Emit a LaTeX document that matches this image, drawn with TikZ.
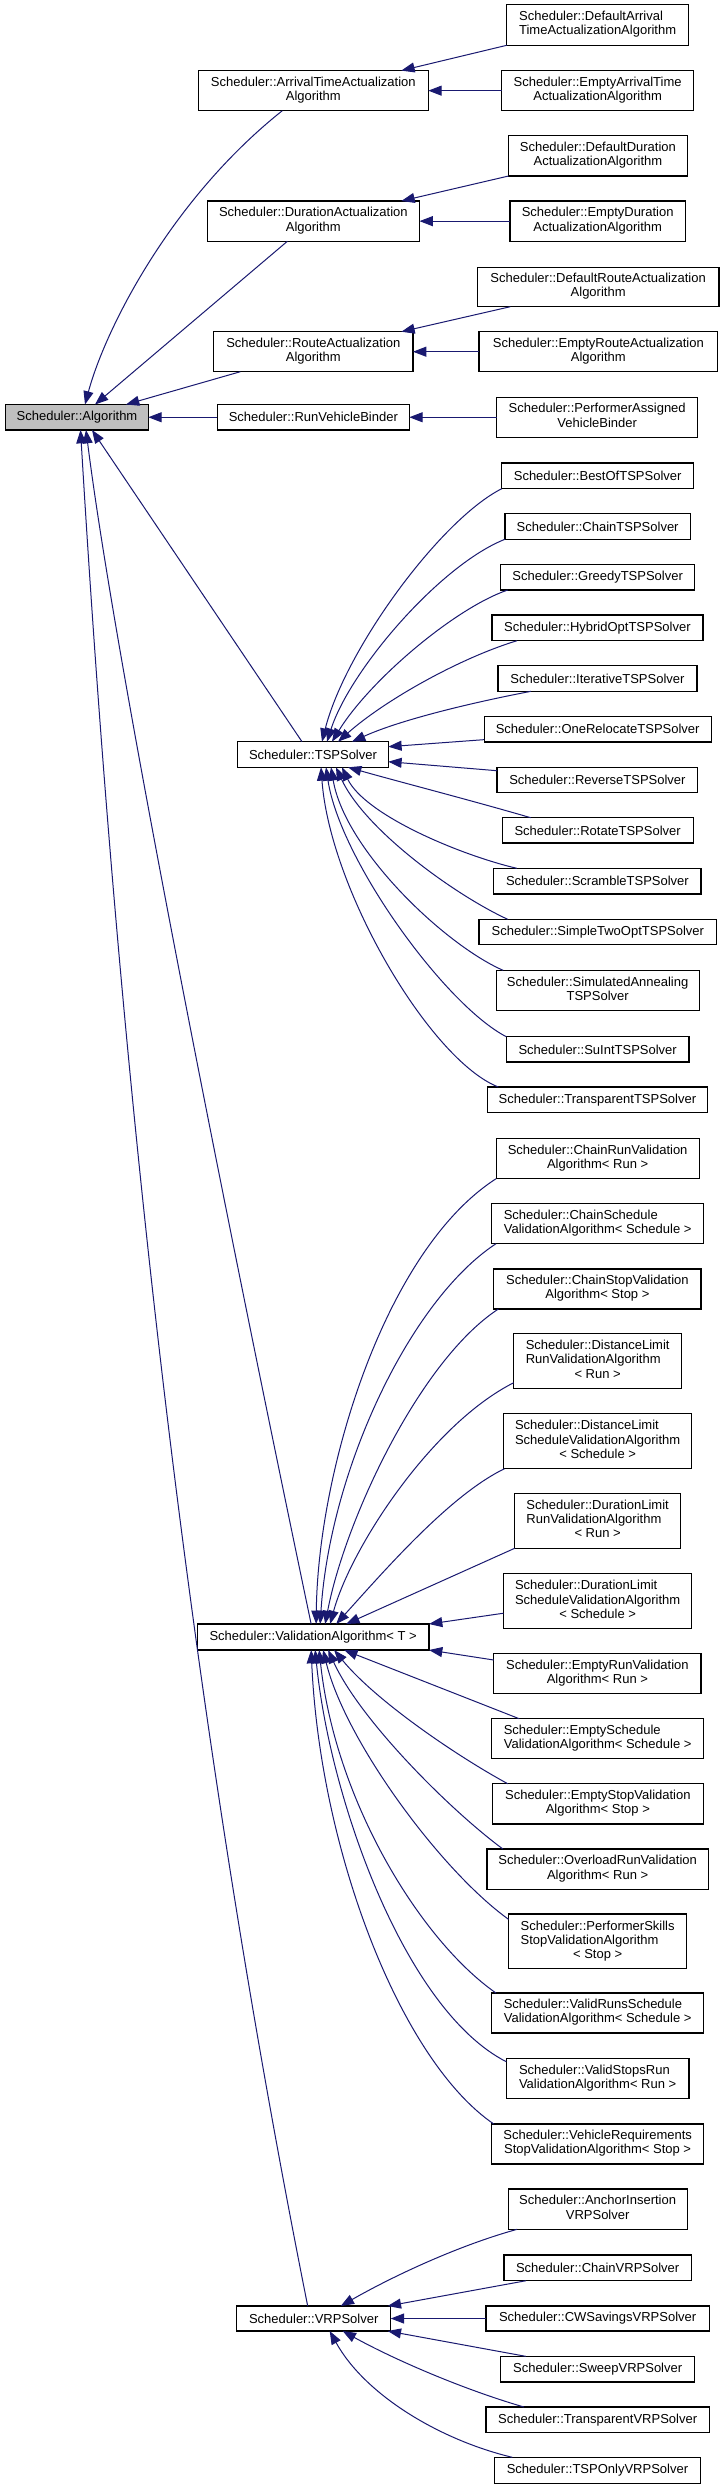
\documentclass[tikz,border=0pt]{standalone}
\usepackage{fontspec}
\setmainfont{Liberation Sans}
\usetikzlibrary{arrows.meta,calc}
\definecolor{mblue}{RGB}{25,25,112}
\definecolor{algogray}{RGB}{191,191,191}
\newcommand\ltwo[2]{\begin{tabular}{@{}l@{}}#1\\\multicolumn{1}{@{}c@{}}{#2}\end{tabular}}
\newcommand\lthree[3]{\begin{tabular}{@{}l@{}}#1\\#2\\\multicolumn{1}{@{}c@{}}{#3}\end{tabular}}
\newcommand\bx[7][]{%
  \pgfmathsetmacro\bxw{(#5-#3)*0.75}%
  \pgfmathsetmacro\bxh{(#6-#4)*0.75}%
  \pgfmathsetmacro\bxcx{(#3+#5)/2}%
  \pgfmathsetmacro\bxcy{(#4+#6)/2}%
  \node[box,minimum width=\bxw pt,minimum height=\bxh pt,#1] (#2) at (\bxcx,\bxcy) {#7};}
\begin{document}
\begin{tikzpicture}[x=0.75pt,y=-0.75pt,
  box/.style={draw=black, line width=0.9pt, inner sep=0pt, outer sep=0pt, fill=white, font=\fontsize{9.75}{10.65}\selectfont},
  edge/.style={draw=mblue, line width=0.75pt, -{Triangle[length=10pt,width=7.5pt]}},
]
\useasboundingbox (0,0) rectangle (723,2489);
\fill[white] (0,0) rectangle (723,2489);

% ---- column 1
\bx[fill=algogray]{algo}{5.7}{404.5}{148.3}{430}{Scheduler::Algorithm}

% ---- column 2
\bx{arrtime}{198.3}{70.6}{428.3}{110.7}{\ltwo{Scheduler::ArrivalTimeActualization}{Algorithm}}
\bx{duract}{207.2}{201}{419.5}{241.3}{\ltwo{Scheduler::DurationActualization}{Algorithm}}
\bx{routeact}{213.7}{331.7}{413}{371.7}{\ltwo{Scheduler::RouteActualization}{Algorithm}}
\bx{runvb}{217.4}{404.5}{409.3}{430}{Scheduler::RunVehicleBinder}
\bx{tsp}{237.7}{741.7}{388.3}{767.3}{Scheduler::TSPSolver}
\bx{valid}{197.3}{1624}{429}{1650}{Scheduler::ValidationAlgorithm< T >}
\bx{vrp}{236.7}{2306}{390.7}{2331}{Scheduler::VRPSolver}

% ---- column 3
\bx{defarr}{506.7}{4.7}{688.6}{45.3}{\ltwo{Scheduler::DefaultArrival}{TimeActualizationAlgorithm}}
\bx{emptyarr}{501.7}{70.6}{693.6}{110.7}{\ltwo{Scheduler::EmptyArrivalTime}{ActualizationAlgorithm}}
\bx{defdur}{508.6}{135.7}{687.2}{176}{\ltwo{Scheduler::DefaultDuration}{ActualizationAlgorithm}}
\bx{emptydur}{510}{201}{685.3}{241.3}{\ltwo{Scheduler::EmptyDuration}{ActualizationAlgorithm}}
\bx{defroute}{477.3}{267.3}{719}{306.7}{\ltwo{Scheduler::DefaultRouteActualization}{Algorithm}}
\bx{emptyroute}{479}{331.7}{717.7}{371.7}{\ltwo{Scheduler::EmptyRouteActualization}{Algorithm}}
\bx{perfassigned}{496.7}{397.2}{697.7}{437.3}{\ltwo{Scheduler::PerformerAssigned}{VehicleBinder}}

\bx{bestof}{501.7}{463}{693.6}{488.7}{Scheduler::BestOfTSPSolver}
\bx{chaintsp}{504.9}{513.7}{690.4}{539.3}{Scheduler::ChainTSPSolver}
\bx{greedy}{500.7}{564.3}{694.6}{590}{Scheduler::GreedyTSPSolver}
\bx{hybrid}{492}{615}{702.9}{640.7}{Scheduler::HybridOptTSPSolver}
\bx{iter}{498}{665.7}{696.9}{691.3}{Scheduler::IterativeTSPSolver}
\bx{onereloc}{484.1}{716.3}{711.2}{742}{Scheduler::OneRelocateTSPSolver}
\bx{reverse}{497}{767.3}{697.8}{792.7}{Scheduler::ReverseTSPSolver}
\bx{rotate}{502.1}{817.7}{693.2}{843}{Scheduler::RotateTSPSolver}
\bx{scramble}{493.8}{868.3}{701}{894}{Scheduler::ScrambleTSPSolver}
\bx{simpletwo}{479}{919.3}{716.7}{944.7}{Scheduler::SimpleTwoOptTSPSolver}
\bx{simann}{496.1}{970.3}{699.2}{1010.3}{\ltwo{Scheduler::SimulatedAnnealing}{TSPSolver}}
\bx{suint}{506.3}{1036.7}{689}{1062}{Scheduler::SuIntTSPSolver}
\bx{transptsp}{487.3}{1087}{707.5}{1112.3}{Scheduler::TransparentTSPSolver}

\bx{chainrun}{496.1}{1138.7}{699.2}{1178.7}{\ltwo{Scheduler::ChainRunValidation}{Algorithm< Run >}}
\bx{chainsched}{491.5}{1203.7}{703.8}{1243.7}{\ltwo{Scheduler::ChainSchedule}{ValidationAlgorithm< Schedule >}}
\bx{chainstop}{493.8}{1269}{701}{1309}{\ltwo{Scheduler::ChainStopValidation}{Algorithm< Stop >}}
\bx{distrun}{513.7}{1333.3}{681.6}{1388.7}{\lthree{Scheduler::DistanceLimit}{RunValidationAlgorithm}{< Run >}}
\bx{distsched}{503.5}{1413.7}{691.8}{1468.7}{\lthree{Scheduler::DistanceLimit}{ScheduleValidationAlgorithm}{< Schedule >}}
\bx{durrun}{514.6}{1493.3}{680.7}{1548.3}{\lthree{Scheduler::DurationLimit}{RunValidationAlgorithm}{< Run >}}
\bx{dursched}{503.5}{1573.7}{691.8}{1628.7}{\lthree{Scheduler::DurationLimit}{ScheduleValidationAlgorithm}{< Schedule >}}
\bx{emptyrun}{493.8}{1653.3}{701}{1693.3}{\ltwo{Scheduler::EmptyRunValidation}{Algorithm< Run >}}
\bx{emptysched}{491.5}{1718.7}{703.8}{1758.7}{\ltwo{Scheduler::EmptySchedule}{ValidationAlgorithm< Schedule >}}
\bx{emptystop}{492.4}{1783.7}{703.3}{1824}{\ltwo{Scheduler::EmptyStopValidation}{Algorithm< Stop >}}
\bx{overload}{486.9}{1849}{708.4}{1889.3}{\ltwo{Scheduler::OverloadRunValidation}{Algorithm< Run >}}
\bx{perfskills}{508.6}{1914}{686.7}{1968.7}{\lthree{Scheduler::PerformerSkills}{StopValidationAlgorithm}{< Stop >}}
\bx{validruns}{491.5}{1993}{703.8}{2033}{\ltwo{Scheduler::ValidRunsSchedule}{ValidationAlgorithm< Schedule >}}
\bx{validstops}{506.3}{2058.7}{689}{2098.7}{\ltwo{Scheduler::ValidStopsRun}{ValidationAlgorithm< Run >}}
\bx{vehreq}{491.5}{2124}{703.8}{2164}{\ltwo{Scheduler::VehicleRequirements}{StopValidationAlgorithm< Stop >}}

\bx{anchor}{508.1}{2189}{687.2}{2229.3}{\ltwo{Scheduler::AnchorInsertion}{VRPSolver}}
\bx{chainvrp}{504}{2255}{691.3}{2280.7}{Scheduler::ChainVRPSolver}
\bx{cw}{486}{2306}{709.3}{2331}{Scheduler::CWSavingsVRPSolver}
\bx{sweep}{500.7}{2356.3}{694.6}{2382}{Scheduler::SweepVRPSolver}
\bx{transpvrp}{486}{2407}{709.3}{2432.7}{Scheduler::TransparentVRPSolver}
\bx{tsponly}{494.3}{2457.3}{700.6}{2483.3}{Scheduler::TSPOnlyVRPSolver}

% ---- edges into Algorithm
\draw[edge] ($(arrtime.south)+(-31,0)$) .. controls (170,200) and (105,330) .. ($(algo.north)+(8,0)$);
\draw[edge] ($(duract.south)+(-26,0)$) -- ($(algo.north)+(18,0)$);
\draw[edge] ($(routeact.south)+(-73,0)$) -- ($(algo.north)+(49,0)$);
\draw[edge] (runvb) -- (algo);
\draw[edge] ($(tsp.north)+(-11,0)$) -- ($(algo.south)+(15,0)$);
\draw[edge] ($(valid.north)+(-2,0)$) .. controls (260,1380) and (120,700) .. ($(algo.south)+(9,0)$);
\draw[edge] ($(vrp.north)+(-6,0)$) .. controls (184,1686) and (117.7,1053) .. ($(algo.south)+(3.5,0)$);

% ---- second level
\draw[edge] (defarr.south west) -- ($(arrtime.north)+(88,0)$);
\draw[edge] (emptyarr) -- (arrtime);
\draw[edge] (defdur.south west) -- ($(duract.north)+(88,0)$);
\draw[edge] (emptydur) -- (duract);
\draw[edge] ($(defroute.south west)+(33,0)$) -- ($(routeact.north)+(88,0)$);
\draw[edge] (emptyroute) -- (routeact);
\draw[edge] (perfassigned) -- (runvb);

% ---- TSP solvers
\draw[edge] (bestof.south west) .. controls (440,520) and (345,650) .. ($(tsp.north)+(9,0)$);
\draw[edge] (chaintsp.south west) .. controls (440,565) and (350,670) .. ($(tsp.north)+(14,0)$);
\draw[edge] ($(greedy.south west)+(7,0)$) .. controls (455,608) and (370,680) .. ($(tsp.north)+(19,0)$);
\draw[edge] ($(hybrid.south west)+(25,0)$) .. controls (460,658) and (385,700) .. ($(tsp.north)+(25,0)$);
\draw[edge] ($(iter.south west)+(33,0)$) .. controls (470,703) and (400,720) .. ($(tsp.north)+(39,0)$);
\draw[edge] ($(onereloc.west)+(0,10.5)$) -- ($(tsp.east)+(0,-7.8)$);
\draw[edge] ($(reverse.west)+(0,-9.3)$) -- ($(tsp.east)+(0,7.2)$);
\draw[edge] ($(rotate.north west)+(28.6,0)$) .. controls (470,800) and (400,782) .. ($(tsp.south)+(35,0)$);
\draw[edge] ($(scramble.north west)+(23,0)$) .. controls (460,855) and (365,815) .. ($(tsp.south)+(29,0)$);
\draw[edge] ($(simpletwo.north west)+(28.7,0)$) .. controls (455,895) and (365,830) .. ($(tsp.south)+(23,0)$);
\draw[edge] ($(simann.north west)+(7,0)$) .. controls (445,945) and (345,850) .. ($(tsp.south)+(18,0)$);
\draw[edge] (suint.north west) .. controls (445,1005) and (340,860) .. ($(tsp.south)+(13,0)$);
\draw[edge] ($(transptsp.north west)+(11,0)$) .. controls (430,1060) and (330,890) .. ($(tsp.south)+(8,0)$);

% ---- validation algorithms
\draw[edge] (chainrun.south west) .. controls (385,1250) and (318,1470) .. ($(valid.north)+(3,0)$);
\draw[edge] ($(chainsched.south west)+(4.5,0)$) .. controls (410,1300) and (330,1470) .. ($(valid.north)+(7,0)$);
\draw[edge] ($(chainstop.south west)+(4.6,0)$) .. controls (420,1360) and (345,1520) .. ($(valid.north)+(12,0)$);
\draw[edge] ($(distrun.west)+(0,21.7)$) .. controls (430,1425) and (350,1550) .. ($(valid.north)+(17,0)$);
\draw[edge] ($(distsched.south west)+(1,0)$) .. controls (450,1495) and (385,1570) .. ($(valid.north)+(23,0)$);
\draw[edge] (durrun.south west) -- ($(valid.north)+(33,0)$);
\draw[edge] ($(dursched.west)+(0,12)$) -- (valid.north east);
\draw[edge] ($(emptyrun.west)+(0,-13.3)$) -- (valid.south east);
\draw[edge] ($(emptysched.north west)+(27.7,0)$) -- ($(valid.south)+(31,0)$);
\draw[edge] ($(emptystop.north west)+(15.3,0)$) .. controls (455,1755) and (375,1700) .. ($(valid.south)+(21,0)$);
\draw[edge] ($(overload.north west)+(16,0)$) .. controls (450,1810) and (360,1720) .. ($(valid.south)+(15,0)$);
\draw[edge] ($(perfskills.west)+(0,-22)$) .. controls (440,1870) and (345,1740) .. ($(valid.south)+(10,0)$);
\draw[edge] ($(validruns.north west)+(4.5,0)$) .. controls (420,1940) and (335,1800) .. ($(valid.south)+(6,0)$);
\draw[edge] ($(validstops.north west)+(0,3)$) .. controls (405,2010) and (330,1800) .. ($(valid.south)+(2,0)$);
\draw[edge] ($(vehreq.north west)+(2.3,0)$) .. controls (400,2060) and (320,1850) .. ($(valid.south)+(-2,0)$);

% ---- VRP solvers
\draw[edge] ($(anchor.south west)+(9,0)$) .. controls (460,2245) and (395,2275) .. ($(vrp.north)+(27,0)$);
\draw[edge] ($(chainvrp.south west)+(22,0)$) -- ($(vrp.north east)+(-3,0)$);
\draw[edge] (cw) -- (vrp);
\draw[edge] ($(sweep.north west)+(25,0)$) -- ($(vrp.south east)+(-3,0)$);
\draw[edge] ($(transpvrp.north west)+(38,0)$) .. controls (465,2390) and (395,2360) .. ($(vrp.south)+(29,0)$);
\draw[edge] ($(tsponly.north west)+(18,0)$) .. controls (440,2440) and (365,2395) .. ($(vrp.south)+(16,0)$);
\end{tikzpicture}
\end{document}
